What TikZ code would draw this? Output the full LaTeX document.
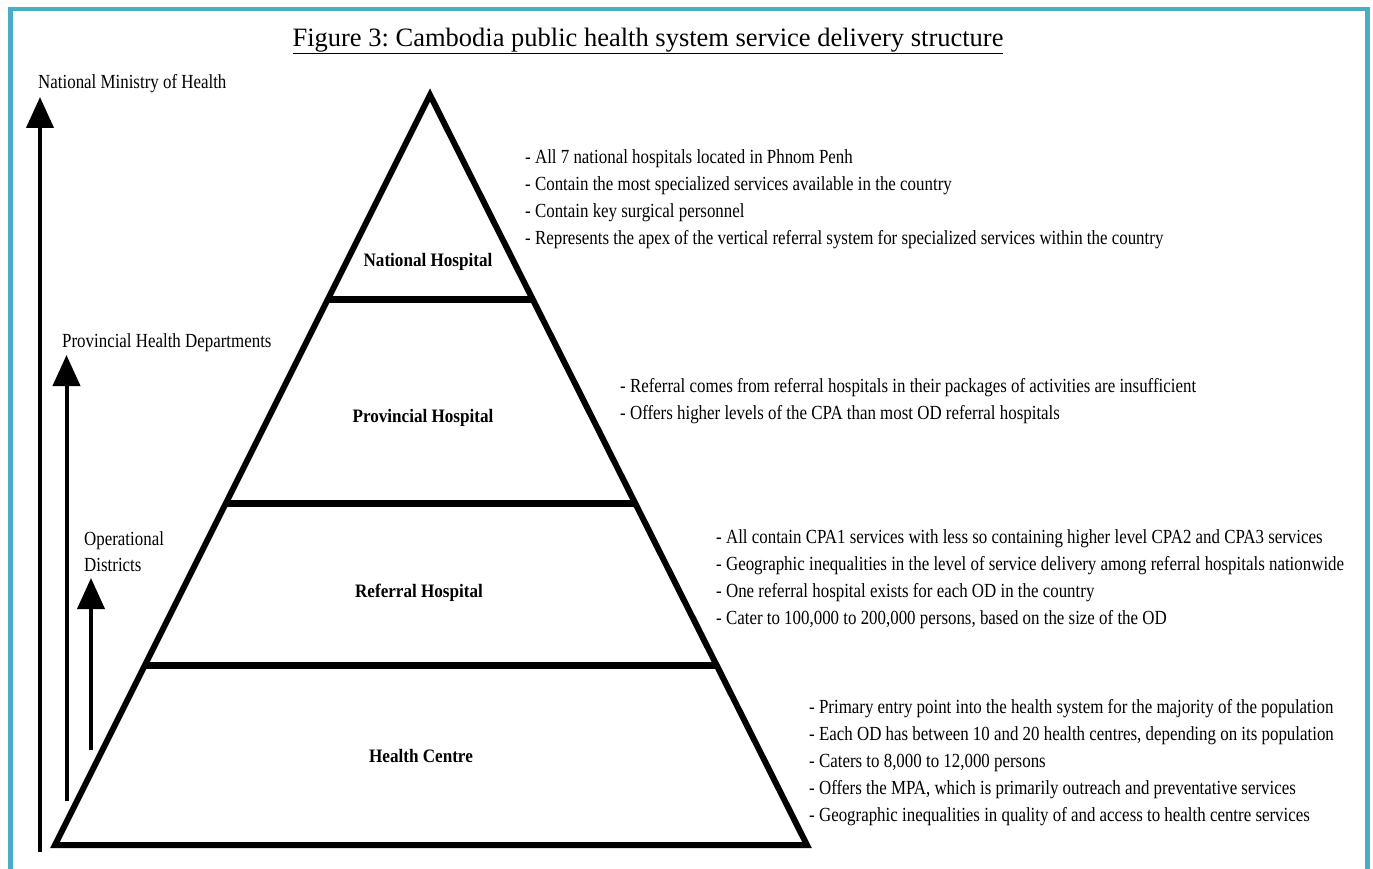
\documentclass[tikz,border=0pt]{standalone}
\usepackage{fontspec}
\setmainfont{Liberation Serif}
\newfontfamily\narrowfont[FakeStretch=0.845]{Liberation Serif}
\newfontfamily\tierfont[FakeStretch=0.9]{Liberation Serif}
\usepackage{xcolor}
\usepackage{tikz}
\usetikzlibrary{arrows.meta, calc}

\definecolor{framecol}{RGB}{75,172,198}
\frenchspacing

\begin{document}
\begin{tikzpicture}[
    x=1pt, y=-1pt,
    frame/.style={draw=framecol, line width=4.5pt},
    tier/.style={line width=6pt, line join=miter},
    level/.style={line width=7pt},
    tierlabel/.style={inner sep=0pt, font=\tierfont\bfseries\fontsize{19}{22}\selectfont},
    note/.style={inner sep=0pt, anchor=west, align=left,
                 font=\narrowfont\fontsize{20}{27}\selectfont},
    side/.style={inner sep=0pt, anchor=west, align=left,
                 font=\narrowfont\fontsize{20}{26}\selectfont},
    rise/.style={line width=4pt, -{Triangle[length=31pt, width=27pt]}}
]
    \useasboundingbox (0,0) rectangle (1373,869);
    \draw[frame] (10.5,875) -- (10.5,9) -- (1367.5,9) -- (1367.5,875);

    \node[font=\fontsize{26.5}{29}\selectfont, inner sep=0pt] (title) at (648,41)
        {\underline{Figure 3: Cambodia public health system service delivery structure}};

    \coordinate (apex) at (430,95);
    \coordinate (baseL) at (55,845);
    \coordinate (baseR) at (807,845);
    \draw[tier] (apex) -- (baseL) -- (baseR) -- cycle;

    \coordinate (natL) at ($(apex)!0.272!(baseL)$);
    \coordinate (natR) at ($(apex)!0.272!(baseR)$);
    \coordinate (provL) at ($(apex)!0.5453!(baseL)$);
    \coordinate (provR) at ($(apex)!0.5453!(baseR)$);
    \coordinate (refL) at ($(apex)!0.76!(baseL)$);
    \coordinate (refR) at ($(apex)!0.76!(baseR)$);
    \draw[level] (natL) -- (natR);
    \draw[level] (provL) -- (provR);
    \draw[level] (refL) -- (refR);

    \node[tierlabel] (national) at (428,262) {National Hospital};
    \node[tierlabel] (provincial) at (423,418) {Provincial Hospital};
    \node[tierlabel] (referral) at (419,593) {Referral Hospital};
    \node[tierlabel] (centre) at (421,756) {Health Centre};

    \node[note] (natnotes) at (525,199.5) {- All 7 national hospitals located in Phnom Penh\\
        - Contain the most specialized services available in the country\\
        - Contain key surgical personnel\\
        - Represents the apex of the vertical referral system for specialized services within the country};
    \node[note] (provnotes) at (620,401.5) {- Referral comes from referral hospitals in their packages of activities are insufficient\\
        - Offers higher levels of the CPA than most OD referral hospitals};
    \node[note] (refnotes) at (716,579.5) {- All contain CPA1 services with less so containing higher level CPA2 and CPA3 services\\
        - Geographic inequalities in the level of service delivery among referral hospitals nationwide\\
        - One referral hospital exists for each OD in the country\\
        - Cater to 100,000 to 200,000 persons, based on the size of the OD};
    \node[note] (centrenotes) at (809,762.5) {- Primary entry point into the health system for the majority of the population\\
        - Each OD has between 10 and 20 health centres, depending on its population\\
        - Caters to 8,000 to 12,000 persons\\
        - Offers the MPA, which is primarily outreach and preventative services\\
        - Geographic inequalities in quality of and access to health centre services};

    \node[side] (ministry) at (38,84) {National Ministry of Health};
    \node[side] (phd) at (62,343) {Provincial Health Departments};
    \node[side] (od) at (84,552) {Operational\\Districts};

    \coordinate (ministryfoot) at (40,852);
    \coordinate (ministrytip) at (40,97);
    \coordinate (phdfoot) at (66.5,801);
    \coordinate (phdtip) at (66.5,355);
    \coordinate (odfoot) at (91,750);
    \coordinate (odtip) at (91,578);
    \draw[rise] (ministryfoot) -- (ministrytip);
    \draw[rise] (phdfoot) -- (phdtip);
    \draw[rise] (odfoot) -- (odtip);
\end{tikzpicture}
\end{document}
